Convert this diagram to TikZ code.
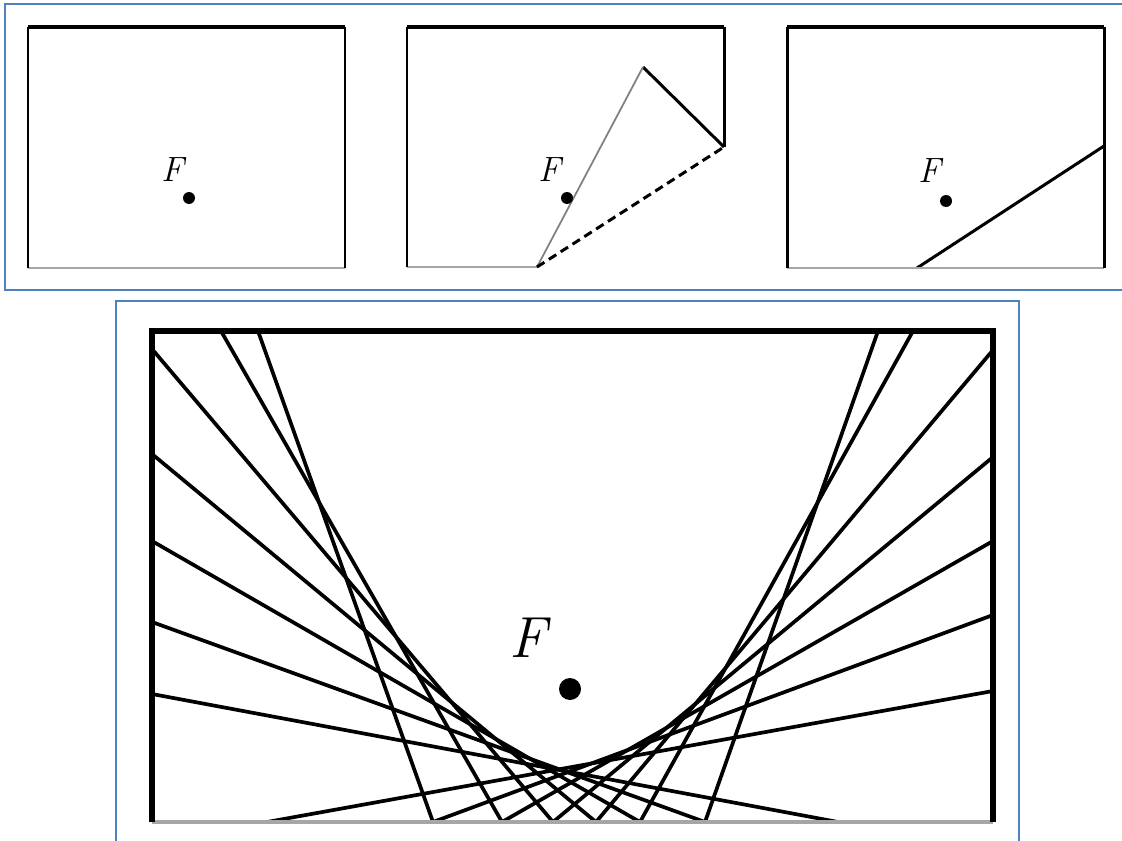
\documentclass[tikz,border=0pt]{standalone}
\usepackage{tikz}
\usetikzlibrary{calc}

\definecolor{frameblue}{RGB}{79,129,189}

\begin{document}
\begin{tikzpicture}[x=0.02cm, y=-0.02cm, every node/.style={inner sep=0pt},
    bluebox/.style={draw=frameblue, line width=1.2pt},
    sideedge/.style={line width=1.7pt},
    topedge/.style={line width=2.4pt},
    lowedge/.style={draw=gray!70, line width=1.7pt},
    crease/.style={line width=2.1pt},
    bigedge/.style={line width=3.4pt},
    labelF/.style={font=\fontsize{20}{22}\selectfont\itshape},
    bigF/.style={font=\fontsize{33}{36}\selectfont\itshape}]
    \useasboundingbox (0,0) rectangle (1122,841);

    % 1. 外框 (蓝色)
    \draw[bluebox] (1124,4) -- (5,4) -- (5,290) -- (1124,290);
    \draw[bluebox] (116,843) -- (116,301) -- (1019,301) -- (1019,843);

    % 2. 第一张纸
    \coordinate (P1BL) at (28,268);
    \coordinate (P1TL) at (28,27);
    \coordinate (P1TR) at (345,27);
    \coordinate (P1BR) at (345,268);
    \draw[lowedge] (P1BL) -- (P1BR);
    \draw[sideedge] (P1BL) -- (P1TL);
    \draw[sideedge] (P1TR) -- (P1BR);
    \draw[topedge] (P1TL) -- (P1TR);
    \fill (189,198) coordinate (D1) circle (0.12cm);
    \node[labelF] (F1) at (173,170) {F};

    % 3. 第二张纸 (折起右下角)
    \coordinate (P2BL) at (407,267);
    \coordinate (P2TL) at (407,27);
    \coordinate (P2TR) at (724,27);
    \coordinate (P2K) at (724,147);
    \coordinate (P2C) at (537,267);
    \coordinate (P2Tip) at (643,67);
    \draw[lowedge] (P2BL) -- (P2C);
    \draw[sideedge] (P2BL) -- (P2TL);
    \draw[sideedge] (P2TR) -- (P2K);
    \draw[topedge] (P2TL) -- (P2TR);
    \draw[sideedge] (P2K) -- (P2Tip);
    \draw[draw=gray, line width=1pt] (P2Tip) -- (P2C);
    \draw[dashed, sideedge, dash pattern=on 5pt off 3pt] (P2C) -- (P2K);
    \fill (567,198) coordinate (D2) circle (0.12cm);
    \node[labelF] (F2) at (550,170) {F};

    % 4. 第三张纸 (展开后的折痕)
    \coordinate (P3BL) at (787,268);
    \coordinate (P3TL) at (787,27);
    \coordinate (P3TR) at (1104,27);
    \coordinate (P3BR) at (1104,268);
    \coordinate (P3A) at (917,268);
    \coordinate (P3B) at (1104,146);
    \draw[sideedge] (P3A) -- (P3B);
    \draw[lowedge] (P3BL) -- (P3BR);
    \draw[sideedge] (P3BL) -- (P3TL);
    \draw[sideedge] (P3TR) -- (P3BR);
    \draw[topedge] (P3TL) -- (P3TR);
    \fill (946,201) coordinate (D3) circle (0.12cm);
    \node[labelF] (F3) at (930,171) {F};

    % 5. 大图: 边上的点
    \coordinate (BL) at (152,822);
    \coordinate (TL) at (152,331);
    \coordinate (TR) at (993,331);
    \coordinate (BR) at (993,822);
    \coordinate (Q1) at (267,822);
    \coordinate (Q2) at (433,822);
    \coordinate (Q3) at (502,822);
    \coordinate (Q4) at (553,822);
    \coordinate (Q5) at (596,822);
    \coordinate (Q6) at (640,822);
    \coordinate (Q7) at (705,822);
    \coordinate (Q8) at (838,822);
    \coordinate (L1) at (152,349);
    \coordinate (L2) at (152,454);
    \coordinate (L3) at (152,541);
    \coordinate (L4) at (152,622);
    \coordinate (L5) at (152,694);
    \coordinate (T1) at (221,331);
    \coordinate (T2) at (258,331);
    \coordinate (T3) at (878,331);
    \coordinate (T4) at (913,331);
    \coordinate (R1) at (993,350);
    \coordinate (R2) at (993,457);
    \coordinate (R3) at (993,541);
    \coordinate (R4) at (993,615);
    \coordinate (R5) at (993,691);

    % 6. 折痕 (左边七条, 右边七条)
    \draw[crease] (T2) -- (Q2);
    \draw[crease] (T1) -- (Q3);
    \draw[crease] (L1) -- (Q4);
    \draw[crease] (L2) -- (Q5);
    \draw[crease] (L3) -- (Q6);
    \draw[crease] (L4) -- (Q7);
    \draw[crease] (L5) -- (Q8);
    \draw[crease] (T3) -- (Q7);
    \draw[crease] (T4) -- (Q6);
    \draw[crease] (R1) -- (Q5);
    \draw[crease] (R2) -- (Q4);
    \draw[crease] (R3) -- (Q3);
    \draw[crease] (R4) -- (Q2);
    \draw[crease] (R5) -- (Q1);

    % 7. 大图边框, 焦点
    \draw[lowedge, line width=2.4pt] (BL) -- (BR);
    \draw[bigedge] (BL) -- (TL) -- (TR) -- (BR);
    \fill (570,689) coordinate (D4) circle (0.22cm);
    \node[bigF] (F4) at (528,638) {F};

\end{tikzpicture}
\end{document}
